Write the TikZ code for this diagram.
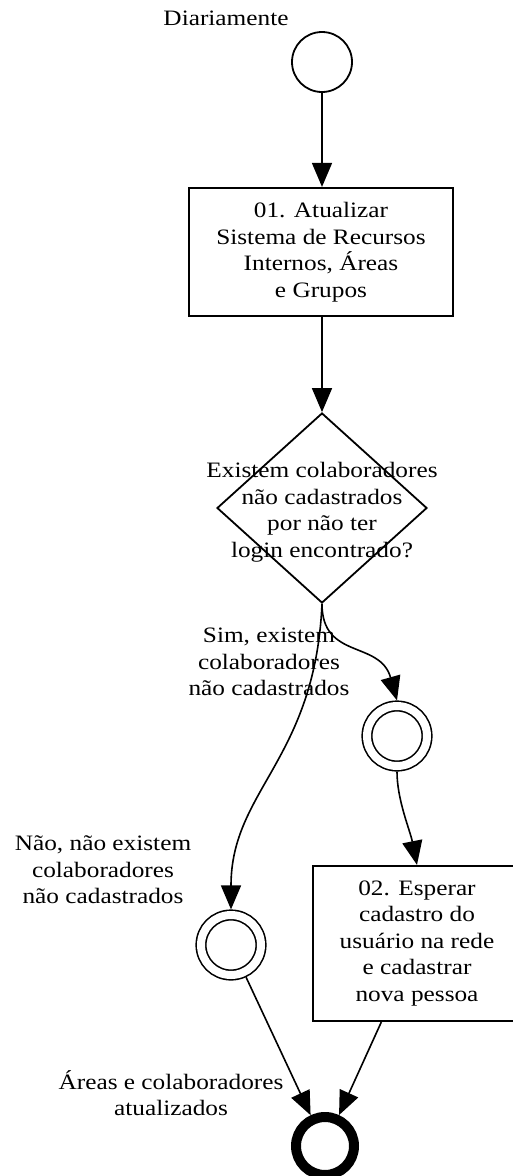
\documentclass[tikz,border=0pt]{standalone}
\usepackage{fontspec}
\setmainfont{Liberation Serif}[FakeStretch=1.15]
\usetikzlibrary{shapes.geometric,arrows.meta}
\begin{document}
\begin{tikzpicture}[x=1pt,y=1pt,
  txt/.style={font=\fontsize{22}{26.5}\selectfont, align=center, inner sep=0pt},
  taskbox/.style={draw, line width=2.2pt, rectangle, inner sep=0pt, txt},
  startev/.style={draw, circle, line width=1.8pt, minimum size=60pt, inner sep=0pt},
  midev/.style={draw, circle, line width=1.6pt, double, double distance=8pt, minimum size=60pt, inner sep=0pt, outer sep=5.6pt},
  endev/.style={draw, circle, line width=10pt, minimum size=58pt, inner sep=0pt},
  gw/.style={draw, diamond, line width=1.8pt, minimum width=210pt, minimum height=190pt, inner sep=0pt},
  arr/.style={line width=1.6pt, -{Triangle[length=24pt,width=20pt]}}]
\path[use as bounding box, clip] (0,0) rectangle (513,-1176);
% nodes
\node[startev] (start) at (322,-62) {};
\node[txt, anchor=base] (lstart) at (226,-25) {Diariamente};
\node[taskbox, minimum width=264pt, minimum height=128pt] (b1) at (321,-252)
  {01. Atualizar\\Sistema de Recursos\\Internos, Áreas\\e Grupos};
\node[gw] (gw) at (322,-508) {};
\node[txt] (gwtext) at (322,-512)
  {Existem colaboradores\\não cadastrados\\por não ter\\login encontrado?};
\node[midev] (rc) at (397,-736) {};
\node[midev] (lc) at (231,-945) {};
\node[taskbox, minimum width=208pt, minimum height=155pt] (b2) at (417,-943.5)
  {02. Esperar\\cadastro do\\usuário na rede\\e cadastrar\\nova pessoa};
\node[endev] (end) at (325,-1146) {};
% labels
\node[txt] (lsim) at (269,-662) {Sim, existem\\colaboradores\\não cadastrados};
\node[txt] (lnao) at (103,-870) {Não, não existem\\colaboradores\\não cadastrados};
\node[txt] (lend) at (171,-1093) {Áreas e colaboradores\\atualizados};
% connectors
\draw[arr] (start) -- (start |- b1.north);
\draw[arr] (b1.south -| gw.north) -- (gw.north);
\draw[arr] (gw.south) .. controls (315,-760) and (231,-790) .. (lc.north);
\draw[arr] (gw.south) .. controls (322,-660) and (380,-640) .. (rc.north);
\draw[arr] (rc.south) .. controls (397,-800) and (410,-830) .. (b2.north);
\draw[arr] (lc) -- (end);
\draw[arr] (b2) -- (end);
\end{tikzpicture}
\end{document}
